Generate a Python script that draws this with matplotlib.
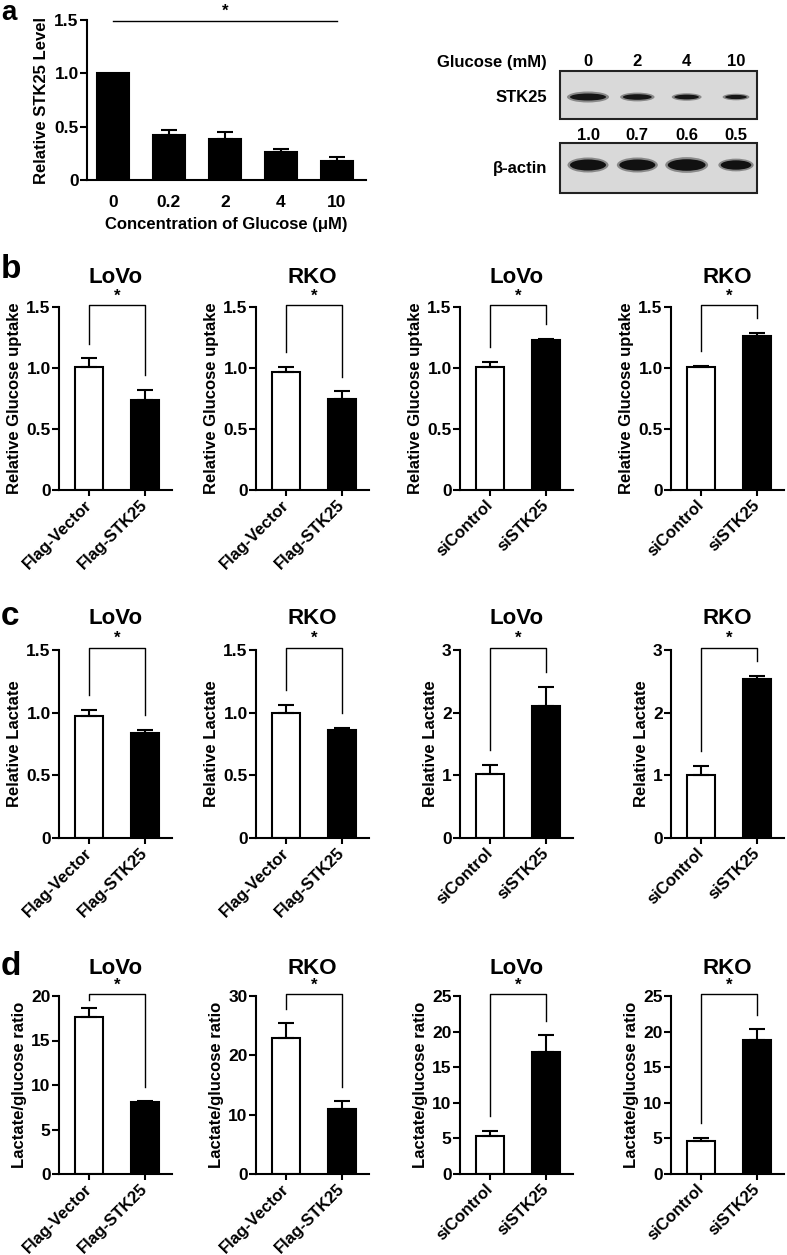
import numpy as np
import matplotlib
matplotlib.use("Agg")
import matplotlib.pyplot as plt
from matplotlib.patches import Ellipse, Rectangle

# panel a: STK25 level vs glucose
conc_labels = ["0", "0.2", "2", "4", "10"]
stk25_level = [1.0, 0.42, 0.38, 0.26, 0.18]
stk25_err = [0.0, 0.05, 0.07, 0.03, 0.04]

# panel a: western blot
blot_lanes = ["0", "2", "4", "10"]
blot_ratio = ["1.0", "0.7", "0.6", "0.5"]
stk25_band = [1.0, 0.8, 0.68, 0.6]
actin_band = [1.0, 1.0, 1.05, 0.85]

# panels b-d
flag_groups = ["Flag-Vector", "Flag-STK25"]
si_groups = ["siControl", "siSTK25"]
cells = ["LoVo", "RKO", "LoVo", "RKO"]

uptake_mean = [[1.01, 0.74], [0.97, 0.745], [1.01, 1.23], [1.01, 1.26]]
uptake_err = [[0.07, 0.08], [0.04, 0.065], [0.04, 0.01], [0.01, 0.03]]
lactate_mean = [[0.97, 0.84], [1.00, 0.86], [1.02, 2.10], [1.01, 2.54]]
lactate_err = [[0.05, 0.02], [0.06, 0.02], [0.15, 0.31], [0.14, 0.04]]
ratio_mean = [[17.6, 8.1], [22.9, 10.9], [5.35, 17.1], [4.6, 18.8]]
ratio_err = [[1.1, 0.1], [2.5, 1.4], [0.75, 2.4], [0.5, 1.6]]

plt.rcParams["font.family"] = ["Liberation Sans", "DejaVu Sans"]
plt.rcParams["font.weight"] = "bold"
plt.rcParams["axes.labelweight"] = "bold"
plt.rcParams["axes.linewidth"] = 1.5
plt.rcParams["font.size"] = 12

W, H = 787, 1255
fig = plt.figure(figsize=(W / 100, H / 100), dpi=100)


def px_axes(left, top, right, bottom):
    return fig.add_axes([left / W, 1 - bottom / H, (right - left) / W, (bottom - top) / H])


def fmt_tick(v, ymax):
    if v == 0:
        return "0"
    return f"{v:.1f}" if ymax < 2 else f"{v:g}"


def style(ax, ymax, step):
    ax.spines[["top", "right"]].set_visible(False)
    ax.set_ylim(0, ymax)
    ticks = np.arange(0, ymax + step / 2, step)
    ax.set_yticks(ticks)
    ax.set_yticklabels([fmt_tick(v, ymax) for v in ticks])
    ax.tick_params(direction="out", length=5, width=1.5, labelsize=12.5, pad=1)


# ---- panel a bars
ax = px_axes(87, 20, 366, 180)
x = np.arange(len(conc_labels))
ax.bar(x, stk25_level, width=0.57, color="black", edgecolor="black", linewidth=1.5, zorder=2)
ax.errorbar(x[1:], stk25_level[1:], yerr=[np.zeros(4), stk25_err[1:]], fmt="none",
            ecolor="black", elinewidth=1.5, capsize=5.5, capthick=1.5, zorder=3)
style(ax, 1.5, 0.5)
ax.set_xlim(-0.46, 4.52)
ax.set_xticks(x)
ax.set_xticklabels(conc_labels)
ax.tick_params(axis="x", length=0, pad=11)
ax.set_ylabel("Relative STK25 Level", fontsize=12, labelpad=4)
ax.set_xlabel("Concentration of Glucose (\u03bcM)", fontsize=12, labelpad=5)
ax.plot([0, 4], [1.49, 1.49], color="black", lw=1.0, clip_on=False)
ax.text(2, 1.58, "*", ha="center", va="center", fontsize=12)

# ---- panel b-d pairs
lefts = [59, 256, 460, 671]
rows = [
    (307, 490, uptake_mean, uptake_err, [1.5] * 4, [0.5] * 4, "Relative Glucose uptake", 30),
    (650, 838, lactate_mean, lactate_err, [1.5, 1.5, 3, 3], [0.5, 0.5, 1, 1], "Relative Lactate", 32),
    (996, 1174, ratio_mean, ratio_err, [20, 30, 25, 25], [5, 10, 5, 5], "Lactate/glucose ratio", 27),
]

for top, bottom, means_all, errs_all, ymaxs, steps, ylabel, toff in rows:
    for i in range(4):
        ax = px_axes(lefts[i], top, lefts[i] + 113, bottom)
        means = means_all[i]
        errs = errs_all[i]
        ymax = ymaxs[i]
        xb = np.arange(2)
        ax.bar(xb, means, width=0.5, color=["white", "black"], edgecolor="black",
               linewidth=1.5, zorder=2)
        ax.errorbar(xb, means, yerr=[np.zeros(2), errs], fmt="none", ecolor="black",
                    elinewidth=1.5, capsize=5.5, capthick=1.5, zorder=3)
        style(ax, ymax, steps[i])
        ax.set_xlim(-0.54, 1.48)
        ax.set_xticks(xb)
        groups = flag_groups if i < 2 else si_groups
        ax.set_xticklabels(groups, rotation=45, ha="right", va="center",
                           rotation_mode="anchor", fontsize=12)
        ax.tick_params(axis="x", length=4, pad=5)
        ax.set_ylabel(ylabel, fontsize=12, labelpad=3)
        ax.annotate(cells[i], xy=(0.5, 1), xycoords="axes fraction", xytext=(0, toff * 0.72),
                    textcoords="offset points", ha="center", va="center", fontsize=16)
        # significance bracket
        btop = ymax * 1.01
        tips = [min(m + e + 0.08 * ymax, btop - 0.03 * ymax) for m, e in zip(means, errs)]
        ax.plot([0, 0, 1, 1], [tips[0], btop, btop, tips[1]], color="black", lw=1.0,
                clip_on=False)
        ax.text(0.5, btop + 0.05 * ymax, "*", ha="center", va="center", fontsize=12)

# ---- overlay in pixel coordinates: panel letters and blot
ov = fig.add_axes([0, 0, 1, 1])
ov.set_xlim(0, W)
ov.set_ylim(H, 0)
ov.axis("off")
ov.patch.set_alpha(0)

ov.text(1, 0, "a", fontsize=20, ha="left", va="top")
for letter, yb in [("b", 278), ("c", 625), ("d", 975)]:
    ov.text(1, yb, letter, fontsize=24, ha="left", va="baseline")

lanes = np.linspace(588, 736, len(blot_lanes))
box_l, box_r = 560, 757
ov.add_patch(Rectangle((box_l, 71), box_r - box_l, 48, facecolor="#d9d9d9",
                       edgecolor="#222222", lw=1.5))
ov.add_patch(Rectangle((box_l, 143), box_r - box_l, 50, facecolor="#d9d9d9",
                       edgecolor="#222222", lw=1.5))
ov.text(547, 62, "Glucose (mM)", ha="right", va="center", fontsize=12)
ov.text(547, 98, "STK25", ha="right", va="center", fontsize=12)
ov.text(547, 168, "\u03b2-actin", ha="right", va="center", fontsize=12)
for lx, lab, r, s, a in zip(lanes, blot_lanes, blot_ratio, stk25_band, actin_band):
    ov.text(lx, 62, lab, ha="center", va="center", fontsize=12)
    ov.text(lx, 135, r, ha="center", va="center", fontsize=12)
    ov.add_patch(Ellipse((lx, 97), 38 * s + 4, 11 * s, facecolor="#3a3a3a", alpha=0.5, lw=0))
    ov.add_patch(Ellipse((lx, 97), 36 * s, 7 * s, facecolor="#161616", lw=0))
    ov.add_patch(Ellipse((lx, 165), 38 * a + 3, 15 * a, facecolor="#3a3a3a", alpha=0.5, lw=0))
    ov.add_patch(Ellipse((lx, 165), 36 * a, 11 * a, facecolor="#111111", lw=0))

fig.savefig("out.png", dpi=100)
